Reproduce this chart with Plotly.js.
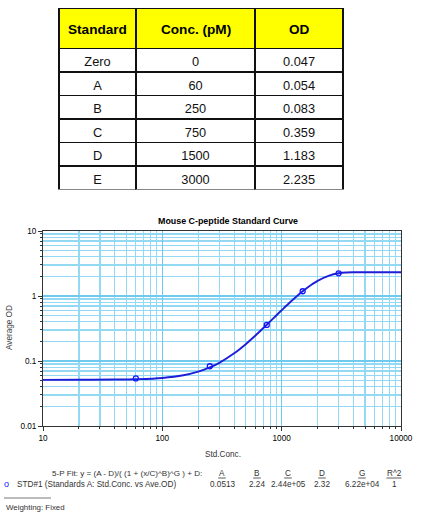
<!DOCTYPE html>
<html>
<head>
<meta charset="utf-8">
<script src="https://cdn.plot.ly/plotly-3.0.1.min.js"></script>
<style>
  html, body { margin: 0; padding: 0; background: #fff; }
  #chart { width: 422px; height: 516px; }
</style>
</head>
<body>
<div id="chart"></div>
<script>
// table of standards
const tableHeader = ["Standard", "Conc. (pM)", "OD"];
const standards = ["Zero", "A", "B", "C", "D", "E"];
const concPm = ["0", "60", "250", "750", "1500", "3000"];
const odText = ["0.047", "0.054", "0.083", "0.359", "1.183", "2.235"];

// measured points (Zero cannot go on a log axis)
const stdConc = [60, 250, 750, 1500, 3000];
const stdOd = [0.054, 0.083, 0.359, 1.183, 2.235];

// fitted 5-P curve
const fitConc = [10, 20, 40, 60, 100, 150, 200, 250, 300, 400, 500, 600, 750, 900, 1000, 1200, 1500, 1800, 2000, 2500, 3000, 3500, 4000, 5000, 7000, 10000];
const fitOd = [0.0513, 0.0514, 0.0518, 0.0525, 0.0549, 0.0603, 0.0685, 0.0795, 0.0936, 0.1312, 0.1816, 0.2444, 0.3607, 0.5004, 0.6042, 0.8295, 1.185, 1.5195, 1.7135, 2.0622, 2.2339, 2.2977, 2.3155, 2.32, 2.32, 2.32];

// fit summary
const fitParams = ["A", "B", "C", "D", "G", "R^2"];
const fitValues = ["0.0513", "2.24", "2.44e+05", "2.32", "6.22e+04", "1"];
const fitParamX = [222, 257, 288, 322, 362, 394];

const xTicks = [10, 100, 1000, 10000];
const yTicks = [0.01, 0.1, 1, 10];

const W = 422, H = 516;
const px = (x) => x / W;
const py = (y) => 1 - y / H;

const FONT = "Liberation Sans, Arial, sans-serif";
const GRID = "#70caee";
const GRID_MINOR = "#93d9f3";

// table column edges in px
const colEdges = [59, 136, 255, 343];

const traces = [
  {
    type: "table",
    domain: { x: [px(colEdges[0]), px(colEdges[3])], y: [py(190), py(8.5)] },
    columnwidth: [77, 119, 88],
    header: {
      values: ["", "", ""],
      fill: { color: "#ffff00" },
      line: { color: "#111", width: 1.6 },
      height: 40,
    },
    cells: {
      values: [standards, concPm, odText],
      fill: { color: "#fff" },
      line: { color: "#111", width: 1.6 },
      align: "center",
      height: 23.5,
      font: { family: FONT, size: 12.8, color: "#111" },
    },
  },
  {
    x: fitConc, y: fitOd, mode: "lines", type: "scatter",
    line: { color: "#1e1ed8", width: 1.9, shape: "spline" },
    hoverinfo: "skip", showlegend: false,
  },
  {
    x: stdConc, y: stdOd, mode: "markers", type: "scatter",
    marker: { symbol: "circle-open", size: 5, color: "#1515ff", line: { width: 1.3 } },
    showlegend: false,
  },
];

const annotations = [
  { text: "<b>Mouse C-peptide Standard Curve</b>", x: px(228), y: py(221), font: { size: 8.9 } },
  { text: "Average OD", x: px(9), y: py(328), textangle: -90, font: { size: 8.2, color: "#444" } },
  { text: "Std.Conc.", x: px(223), y: py(454), font: { size: 8.2, color: "#333" } },
  { text: "5-P Fit: y = (A - D)/( (1 + (x/C)^B)^G ) + D:", x: px(50), y: py(473), xanchor: "left", font: { size: 8.1, color: "#333" } },
  { text: "STD#1 (Standards A: Std.Conc. vs Ave.OD)", x: px(15), y: py(484), xanchor: "left", font: { size: 8.2, color: "#333" } },
  { text: "Weighting: Fixed", x: px(4), y: py(507), xanchor: "left", font: { size: 7.9, color: "#333" } },
  { text: "o", x: px(6), y: py(483.5), font: { size: 9, color: "#1515ff" } },
];
tableHeader.forEach((h, i) => {
  annotations.push({ text: "<b>" + h + "</b>", x: px((colEdges[i] + colEdges[i + 1]) / 2), y: py(29.5), font: { size: 13.6, color: "#000" } });
});
fitParams.forEach((p, i) => {
  annotations.push({ text: p, x: px(fitParamX[i]), y: py(473), font: { size: 8.2, color: "#333" } });
  annotations.push({ text: fitValues[i], x: px(fitParamX[i]), y: py(484), font: { size: 8.2, color: "#333" } });
});
annotations.forEach((a) => {
  a.xref = "paper"; a.yref = "paper"; a.showarrow = false;
  a.xanchor = a.xanchor || "center"; a.yanchor = "middle";
  a.font = Object.assign({ family: FONT, color: "#000" }, a.font);
});

// underline each fit parameter name, plus the rule above "Weighting"
const shapes = fitParams.map((p, i) => {
  const half = p.length > 1 ? 7.5 : 3.8;
  return {
    type: "line", xref: "paper", yref: "paper",
    x0: px(fitParamX[i] - half), x1: px(fitParamX[i] + half), y0: py(478), y1: py(478),
    line: { color: "#333", width: 0.8 },
  };
});
shapes.push({ type: "line", xref: "paper", yref: "paper", x0: px(4), x1: px(51), y0: py(498), y1: py(498), line: { color: "#555", width: 0.8 } });

const axisCommon = {
  type: "log",
  showline: true, linecolor: "#333", linewidth: 1, mirror: true,
  ticks: "outside", ticklen: 4, tickcolor: "#333",
  showgrid: true, gridcolor: GRID, gridwidth: 1.3,
  minor: { ticks: "outside", ticklen: 2, tickcolor: "#333", dtick: "D1", showgrid: true, gridcolor: GRID_MINOR, gridwidth: 1.2 },
  tickfont: { family: FONT, size: 8.2, color: "#000" },
  zeroline: false, automargin: false, fixedrange: true,
};

const layout = {
  width: W, height: H,
  margin: { l: 0, r: 0, t: 0, b: 0 },
  paper_bgcolor: "#fff", plot_bgcolor: "#fff",
  showlegend: false,
  xaxis: Object.assign({}, axisCommon, {
    domain: [px(43), px(401)], range: [1, 4],
    tickvals: xTicks, ticktext: xTicks.map(String),
  }),
  yaxis: Object.assign({}, axisCommon, {
    domain: [py(426), py(231)], range: [-2, 1],
    tickvals: yTicks, ticktext: yTicks.map(String),
  }),
  annotations, shapes,
};

Plotly.newPlot("chart", traces, layout, { displayModeBar: false, staticPlot: true });
</script>
</body>
</html>
